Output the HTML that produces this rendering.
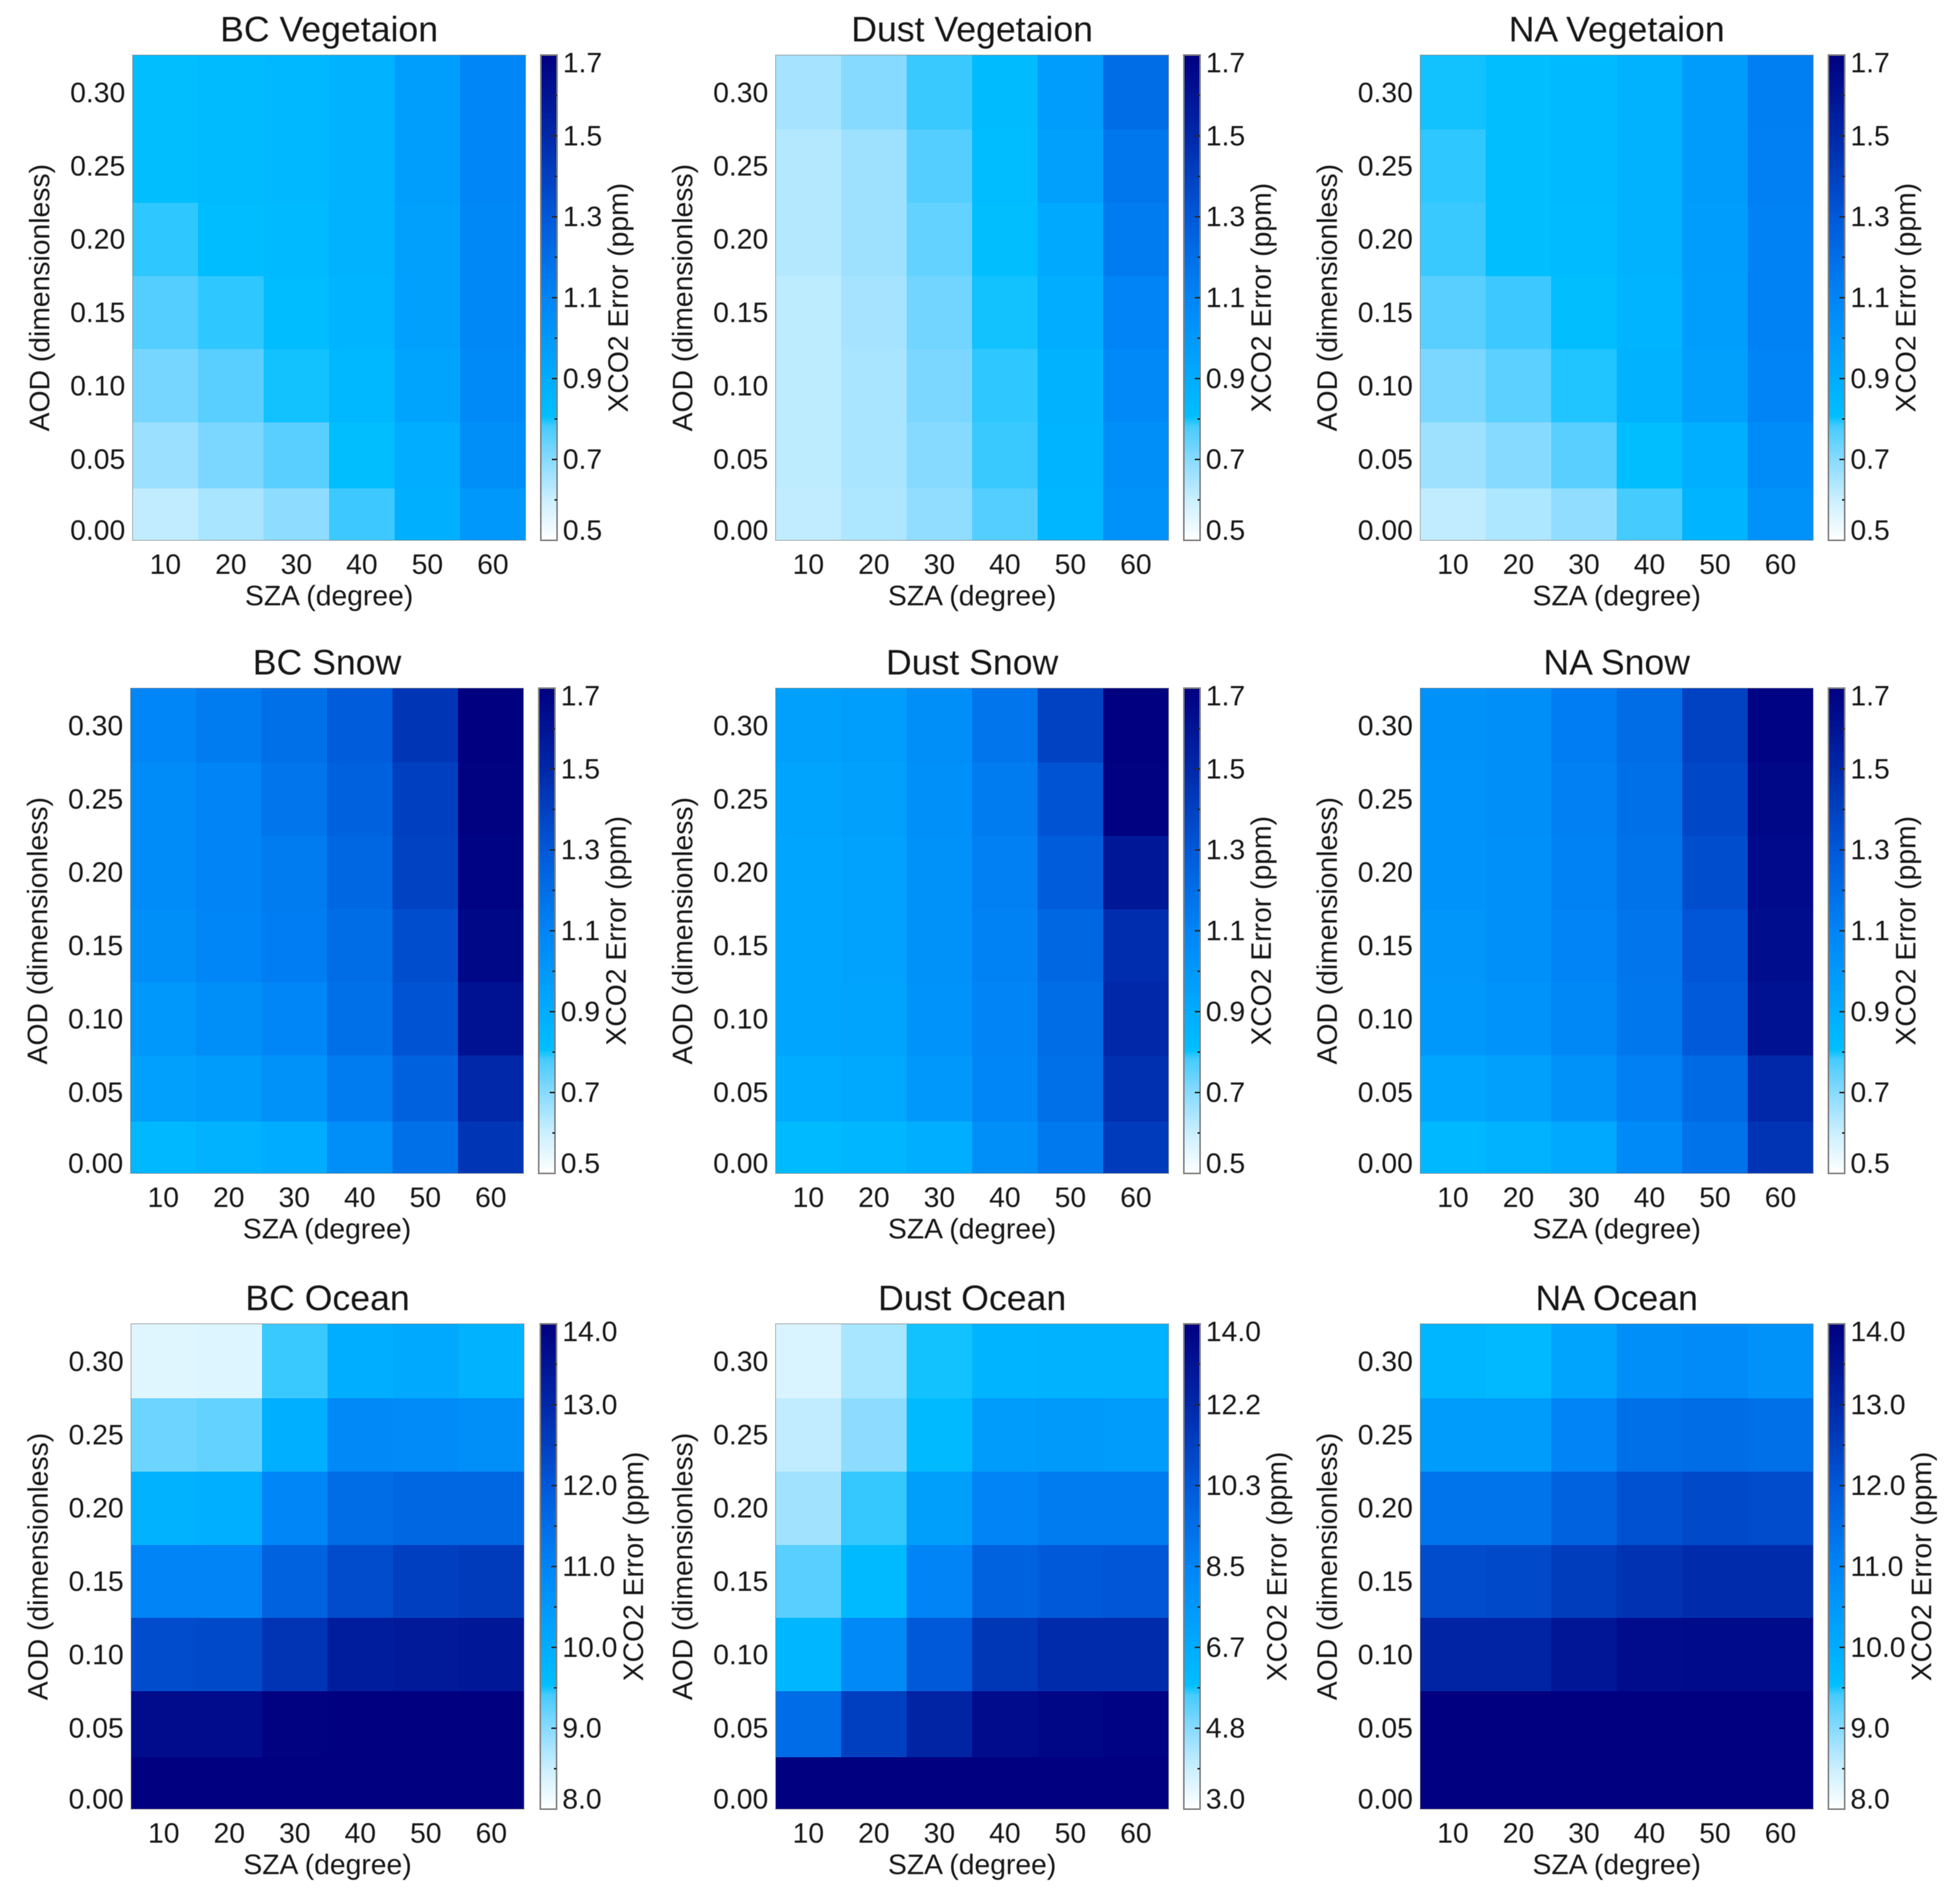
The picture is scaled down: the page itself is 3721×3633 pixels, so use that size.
<!DOCTYPE html>
<html lang="en">
<head>
<meta charset="utf-8">
<title>XCO2 Error heatmaps by SZA and AOD</title>
<style>
html,body{margin:0;padding:0;background:#fff;}
svg{display:block;}
text{font-family:"Liberation Sans",Arial,sans-serif;fill:#161616;}
.soft{filter:blur(0.9px);}
</style>
</head>
<body>
<svg id="figure" xmlns="http://www.w3.org/2000/svg" width="3721" height="3633" viewBox="0 0 3721 3633">
<defs id="defs"></defs>
<rect x="0" y="0" width="3721" height="3633" fill="#ffffff"/>
</svg>
<script>
// ----- shared axes data -----
const szaCategories = [10, 20, 30, 40, 50, 60];
const szaEdges = [5, 15, 25, 35, 45, 55, 65];
const aodTicks = [0.30, 0.25, 0.20, 0.15, 0.10, 0.05, 0.00];
const aodTickLabels = ["0.30", "0.25", "0.20", "0.15", "0.10", "0.05", "0.00"];
const aodEdges = [0.3257, 0.275, 0.225, 0.175, 0.125, 0.075, 0.03, -0.0053];

// ----- colour bar tick labels -----
const landTicks = ["1.7", "1.5", "1.3", "1.1", "0.9", "0.7", "0.5"];
const oceanTicks = ["14.0", "13.0", "12.0", "11.0", "10.0", "9.0", "8.0"];
const dustOceanTicks = ["14.0", "12.2", "10.3", "8.5", "6.7", "4.8", "3.0"];

// ----- series values, ppm; rows AOD 0.30 → 0.00, columns SZA 10 → 60 -----
const bcVegetation = [
  [.81,.82,.84,.87,.97,1.09],
  [.81,.82,.84,.87,.97,1.09],
  [.79,.815,.83,.87,.96,1.08],
  [.764,.79,.815,.86,.96,1.08],
  [.72,.76,.80,.84,.94,1.07],
  [.67,.716,.76,.81,.895,1.05],
  [.614,.65,.69,.785,.88,1.00]
];
const dustVegetation = [
  [.656,.70,.786,.82,.974,1.21],
  [.634,.668,.764,.815,.96,1.16],
  [.634,.668,.746,.81,.914,1.14],
  [.62,.656,.728,.80,.896,1.10],
  [.62,.65,.716,.79,.872,1.076],
  [.62,.65,.70,.786,.86,1.05],
  [.614,.644,.686,.764,.85,1.03]
];
const naVegetation = [
  [.80,.81,.83,.87,.98,1.124],
  [.79,.81,.83,.87,.98,1.12],
  [.786,.81,.825,.87,.975,1.11],
  [.76,.785,.812,.86,.97,1.11],
  [.716,.755,.795,.87,.96,1.10],
  [.668,.70,.76,.812,.884,1.06],
  [.614,.644,.686,.782,.86,1.03]
];
const bcSnow = [
  [1.09,1.14,1.19,1.28,1.44,1.70],
  [1.06,1.10,1.17,1.26,1.40,1.69],
  [1.06,1.10,1.14,1.23,1.39,1.68],
  [1.05,1.09,1.13,1.21,1.34,1.66],
  [1.00,1.05,1.09,1.19,1.32,1.61],
  [.96,.98,1.03,1.14,1.26,1.50],
  [.84,.87,.90,1.05,1.19,1.44]
];
const dustSnow = [
  [.96,.97,1.05,1.17,1.39,1.70],
  [.94,.96,1.04,1.14,1.32,1.69],
  [.93,.95,1.03,1.12,1.28,1.58],
  [.93,.95,1.03,1.11,1.23,1.48],
  [.93,.94,1.02,1.10,1.21,1.50],
  [.90,.92,1.00,1.09,1.19,1.47],
  [.83,.85,.89,1.05,1.15,1.42]
];
const naSnow = [
  [1.03,1.05,1.13,1.21,1.39,1.68],
  [1.02,1.05,1.12,1.19,1.37,1.66],
  [1.02,1.04,1.11,1.18,1.34,1.65],
  [1.01,1.04,1.10,1.17,1.31,1.63],
  [1.00,1.02,1.08,1.16,1.29,1.61],
  [.93,.96,1.03,1.12,1.22,1.50],
  [.84,.87,.92,1.07,1.18,1.45]
];
const bcOcean = [
  [8.30,8.33,9.43,9.95,10.07,9.86],
  [9.17,9.23,9.92,10.88,10.82,10.76],
  [9.86,9.92,10.94,11.54,11.66,11.66],
  [11.0,11.0,11.78,12.26,12.5,12.6],
  [12.26,12.3,12.74,13.28,13.35,13.4],
  [13.7,13.7,13.95,14,14,14],
  [14,14,14,14,14,14]
];
const dustOcean = [
  [3.66,4.38,5.75,6.3,6.41,6.41],
  [4.05,4.76,6.03,7.4,7.5,7.4],
  [4.49,5.64,7.24,8.5,8.83,8.83],
  [5.37,6.03,8.5,9.93,10.3,10.4],
  [6.19,8.28,10.3,11.6,12,12],
  [9.5,11.25,12.35,13.45,13.7,13.8],
  [14,14,14,14,14,14]
];
const naOcean = [
  [9.74,9.68,10.2,10.76,10.82,10.66],
  [10.4,10.4,11.0,11.45,11.54,11.45],
  [11.36,11.36,11.78,12.14,12.3,12.26],
  [12.26,12.3,12.56,12.8,12.92,12.92],
  [13.1,13.1,13.46,13.7,13.72,13.72],
  [14,14,14,14,14,14],
  [14,14,14,14,14,14]
];

// ----- colour map: position on the bar, then RGB -----
const colorStops = [
  [0, 255,255,255], [.08, 205,240,255], [.167, 135,218,255], [.235, 70,203,255],
  [.255, 0,191,255], [.333, 0,172,255], [.5, 0,132,246], [.667, 0,88,216],
  [.833, 0,40,168], [1, 0,0,128]
];

// ----- panel list -----
const panels = [
  {slug:"bc-vegetation",   title:"BC Vegetaion",   values:bcVegetation,   ticks:landTicks,      vmin:.5, vmax:1.7, col:0, row:0, left:253,  cb:1032, ocean:false},
  {slug:"dust-vegetation", title:"Dust Vegetaion", values:dustVegetation, ticks:landTicks,      vmin:.5, vmax:1.7, col:1, row:0, left:1480, cb:2259, ocean:false},
  {slug:"na-vegetation",   title:"NA Vegetaion",   values:naVegetation,   ticks:landTicks,      vmin:.5, vmax:1.7, col:2, row:0, left:2710, cb:3489, ocean:false},
  {slug:"bc-snow",         title:"BC Snow",        values:bcSnow,         ticks:landTicks,      vmin:.5, vmax:1.7, col:0, row:1, left:249,  cb:1028, ocean:false},
  {slug:"dust-snow",       title:"Dust Snow",      values:dustSnow,       ticks:landTicks,      vmin:.5, vmax:1.7, col:1, row:1, left:1480, cb:2259, ocean:false},
  {slug:"na-snow",         title:"NA Snow",        values:naSnow,         ticks:landTicks,      vmin:.5, vmax:1.7, col:2, row:1, left:2710, cb:3489, ocean:false},
  {slug:"bc-ocean",        title:"BC Ocean",       values:bcOcean,        ticks:oceanTicks,     vmin:8,  vmax:14,  col:0, row:2, left:250,  cb:1031, ocean:true},
  {slug:"dust-ocean",      title:"Dust Ocean",     values:dustOcean,      ticks:dustOceanTicks, vmin:3,  vmax:14,  col:1, row:2, left:1480, cb:2259, ocean:true},
  {slug:"na-ocean",        title:"NA Ocean",       values:naOcean,        ticks:oceanTicks,     vmin:8,  vmax:14,  col:2, row:2, left:2710, cb:3489, ocean:true}
];
const rowTops = [105, 1313, 2526];
const plotWidth = 750, plotHeight = 926, barWidth = 31, fontSize = 54;

const SVGNS = "http://www.w3.org/2000/svg";
const svg = document.getElementById("figure");

function make(tag, attrs, parent) {
  const n = document.createElementNS(SVGNS, tag);
  for (const k in attrs) n.setAttribute(k, attrs[k]);
  parent.appendChild(n);
  return n;
}
function colorFor(v, vmin, vmax) {
  const t = Math.max(0, Math.min(1, (v - vmin) / (vmax - vmin)));
  for (let i = 1; i < colorStops.length; i++) {
    const a = colorStops[i - 1], b = colorStops[i];
    if (t <= b[0]) {
      const f = (t - a[0]) / (b[0] - a[0]);
      return "rgb(" + [1, 2, 3].map(c => Math.round(a[c] + (b[c] - a[c]) * f)).join(",") + ")";
    }
  }
  return "rgb(0,0,128)";
}
function xScale(p, sza) { return p.left + (sza - 5) / 60 * plotWidth; }
function yScale(p, aod) { return p.top + (aodEdges[0] - aod) / (aodEdges[0] - aodEdges[7]) * plotHeight; }
function barScale(p, i) { return p.top + i * plotHeight / 6; }

// colour bar gradient built from the colour map
const defs = document.getElementById("defs");
const grad = make("linearGradient", {id:"cbar", x1:"0", y1:"1", x2:"0", y2:"0"}, defs);
colorStops.forEach(s => {
  make("stop", {offset:s[0], "stop-color":"rgb(" + s[1] + "," + s[2] + "," + s[3] + ")"}, grad);
});

panels.forEach(p => {
  p.top = rowTops[p.row];
  const bottom = p.top + plotHeight;
  const right = p.left + plotWidth;
  const cbRight = p.cb + barWidth;

  const g = make("g", {}, svg);
  
  

  // heatmap cells
  const cells = make("g", {"shape-rendering":"crispEdges"}, g);
  
  
  p.values.forEach((rowVals, r) => {
    rowVals.forEach((v, c) => {
      const x0 = Math.round(xScale(p, szaEdges[c]));
      const x1 = Math.round(xScale(p, szaEdges[c + 1]));
      const y0 = Math.round(yScale(p, aodEdges[r]));
      const y1 = Math.round(yScale(p, aodEdges[r + 1]));
      const cell = make("rect", {x:x0, y:y0, width:x1 - x0, height:y1 - y0, fill:colorFor(v, p.vmin, p.vmax)}, cells);
      
      
    });
  });

  // plot frame
  const frame = make("rect", {x:p.left, y:p.top, width:plotWidth, height:plotHeight, fill:"none", stroke:"#8a8a8a", "stroke-opacity":"0.55", "stroke-width":"2"}, g);
  
  

  const labels = make("g", {class:"soft"}, g);
  
  

  // title
  const title = make("text", {x:p.left + plotWidth / 2, y:p.top - 26, "font-size":68, "text-anchor":"middle"}, labels);
  title.textContent = p.title;
  
  

  // x ticks
  szaCategories.forEach(s => {
    const t = make("text", {x:xScale(p, s), y:bottom + 64, "font-size":fontSize, "text-anchor":"middle"}, labels);
    t.textContent = s;
    
    
  });
  const xTitle = make("text", {x:p.left + plotWidth / 2, y:bottom + 124, "font-size":fontSize, "text-anchor":"middle"}, labels);
  xTitle.textContent = "SZA (degree)";
  
  

  // y ticks
  aodTicks.forEach((a, i) => {
    const cy = yScale(p, a) - (a === 0 ? 5 : 1);
    const t = make("text", {x:p.left - 14, y:cy + 19, "font-size":fontSize, "text-anchor":"end"}, labels);
    t.textContent = aodTickLabels[i];
    
    
  });
  const yc = p.top + plotHeight / 2;
  const yTitle = make("text", {x:0, y:0, "font-size":54, "text-anchor":"middle", transform:"translate(" + (p.left - 159) + "," + yc + ") rotate(-90)"}, labels);
  yTitle.textContent = "AOD (dimensionless)";
  
  

  // colour bar
  const bar = make("rect", {x:p.cb, y:p.top, width:barWidth, height:plotHeight, fill:"url(#cbar)", stroke:"#808080", "stroke-width":"3"}, g);
  
  
  for (let i = 0; i <= 12; i++) {
    if (i === 0 || i === 12) continue;
    const len = i % 2 === 0 ? 10 : 5;
    const ty = p.top + i * plotHeight / 12;
    const tick = make("line", {x1:cbRight - len, x2:cbRight, y1:ty, y2:ty, stroke:"#2a2a2a", "stroke-width":"3"}, g);
    
    
  }
  p.ticks.forEach((lab, i) => {
    const nudge = i === 0 ? 14 : (i === 6 ? -20 : -1);
    const t = make("text", {x:cbRight + 11, y:barScale(p, i) + nudge + 19, "font-size":fontSize}, labels);
    t.textContent = lab;
    
    
  });
  const cbTitle = make("text", {x:0, y:0, "font-size":fontSize, "text-anchor":"middle", transform:"translate(" + (cbRight + (p.ocean ? 165 : 135)) + "," + yc + ") rotate(-90)"}, labels);
  cbTitle.textContent = "XCO2 Error (ppm)";
  
  
});
</script>
</body>
</html>
